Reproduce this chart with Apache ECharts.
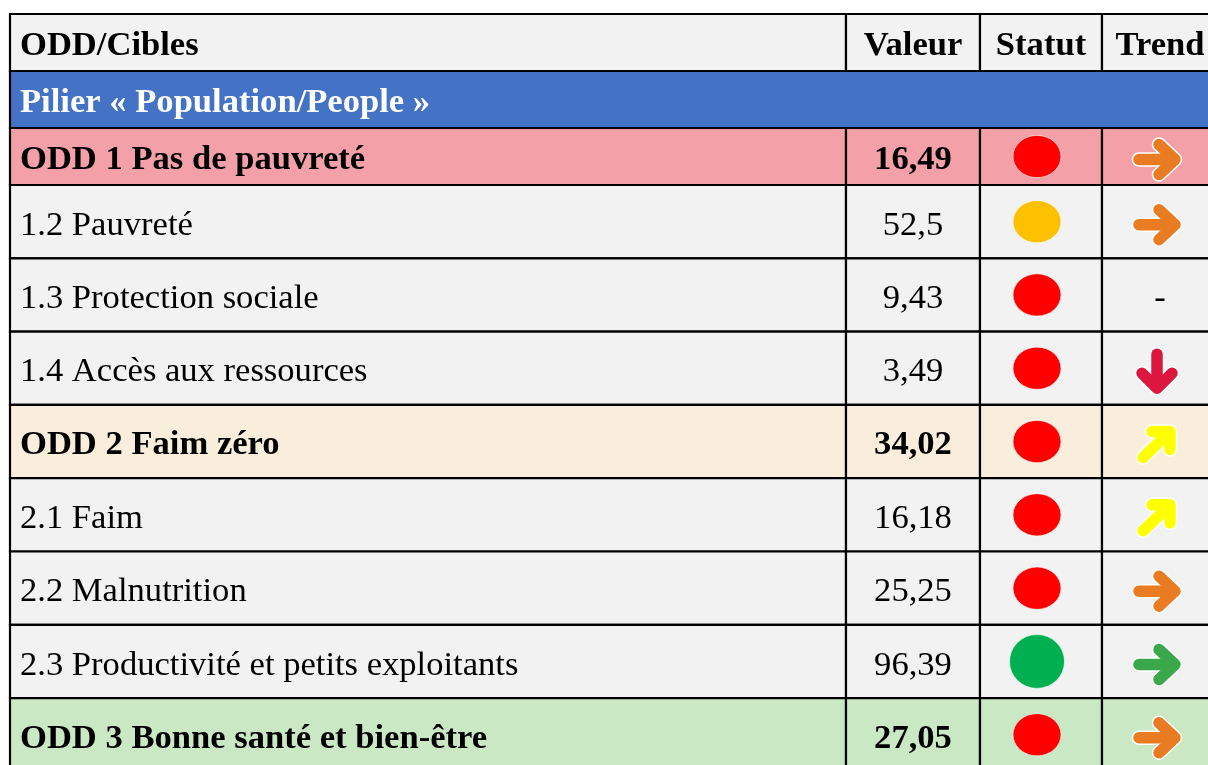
<!DOCTYPE html>
<html><head><meta charset="utf-8">
<script src="https://cdn.jsdelivr.net/npm/echarts@6/dist/echarts.min.js"></script>
<style>html,body{margin:0;padding:0;background:#fff;}#c{width:1208px;height:765px;}</style>
</head><body><div id="c"></div>
<script>
// ---------- data ----------
const columnHeaders = ['ODD/Cibles', 'Valeur', 'Statut', 'Trend'];
const rowLabels = [
  'Pilier « Population/People »',
  'ODD 1 Pas de pauvreté',
  '1.2 Pauvreté',
  '1.3 Protection sociale',
  '1.4 Accès aux ressources',
  'ODD 2 Faim zéro',
  '2.1 Faim',
  '2.2 Malnutrition',
  '2.3 Productivité et petits exploitants',
  'ODD 3 Bonne santé et bien-être'
];
const rowKinds = ['pillar', 'odd1', 'target', 'target', 'target', 'odd2', 'target', 'target', 'target', 'odd3'];
const values = [null, 16.49, 52.5, 9.43, 3.49, 34.02, 16.18, 25.25, 96.39, 27.05];
const statuses = [null, 'red', 'yellow', 'red', 'red', 'red', 'red', 'red', 'green', 'red'];
const trendDirections = [null, 'right', 'right', 'none', 'down', 'up-right', 'up-right', 'right', 'right', 'right'];
const trendTones = [null, 'orange', 'orange', null, 'crimson', 'yellow', 'yellow', 'orange', 'green', 'orange'];

// ---------- layout & style ----------
const W = 1208, H = 765;
const TABLE_LEFT = 10, TABLE_TOP = 14;
const COL_W = [836, 134, 122, 116];
const HEADER_H = 57;
const ROW_H = { pillar: 57, odd1: 57, target: 73.3, odd2: 73.3, odd3: 73.3 };
const FILL = { header: '#f2f2f2', pillar: '#4472c4', odd1: '#f4a0a8', odd2: '#f9eddc', odd3: '#cbe8c5', target: '#f2f2f2' };
const STATUS_COLOR = { red: '#ff0000', yellow: '#ffc000', green: '#00b050' };
const TONE_COLOR = { orange: '#e97c22', crimson: '#dc163d', yellow: '#ffff00', green: '#3aa84a' };
const FONT = '"Liberation Serif", "Times New Roman", serif';
const FS = 34.6;

const colX = [TABLE_LEFT];
COL_W.forEach(w => colX.push(colX[colX.length - 1] + w));
const rowTops = [];
let yy = TABLE_TOP + HEADER_H;
rowKinds.forEach(k => { rowTops.push(yy); yy += ROW_H[k]; });

const fmt = v => String(v).replace('.', ',');
const isBold = k => k !== 'target';

// build cells
const cells = [];
columnHeaders.forEach((h, c) => cells.push({
  x0: colX[c], y0: TABLE_TOP, x1: colX[c + 1], y1: TABLE_TOP + HEADER_H,
  fill: FILL.header, text: h, bold: true, color: '#000', align: c === 0 ? 'left' : 'center'
}));
rowLabels.forEach((lab, r) => {
  const k = rowKinds[r], y0 = rowTops[r], y1 = y0 + ROW_H[k];
  if (k === 'pillar') {
    cells.push({ x0: colX[0], y0, x1: colX[4], y1, fill: FILL.pillar, text: lab, bold: true, color: '#fff', align: 'left' });
    return;
  }
  cells.push({ x0: colX[0], y0, x1: colX[1], y1, fill: FILL[k], text: lab, bold: isBold(k), color: '#000', align: 'left' });
  cells.push({ x0: colX[1], y0, x1: colX[2], y1, fill: FILL[k], text: fmt(values[r]), bold: isBold(k), color: '#000', align: 'center' });
  cells.push({ x0: colX[2], y0, x1: colX[3], y1, fill: FILL[k], text: '', bold: false, color: '#000', align: 'center' });
  cells.push({ x0: colX[3], y0, x1: colX[4], y1, fill: FILL[k],
    text: trendDirections[r] === 'none' ? '-' : '', bold: false, color: '#000', align: 'center' });
});

const statusData = [];
const trendData = [];
rowLabels.forEach((lab, r) => {
  const k = rowKinds[r];
  const cy = rowTops[r] + ROW_H[k] / 2;
  if (statuses[r]) statusData.push({ value: [(colX[2] + colX[3]) / 2 - 4, cy], status: statuses[r] });
  if (trendDirections[r] && trendDirections[r] !== 'none')
    trendData.push({ value: [(colX[3] + colX[4]) / 2 - 3, cy + 3], dir: trendDirections[r], tone: trendTones[r] });
});

const ARROWS = {
  'right': [[[-18, 0], [17, 0]], [[2, -15], [18, 0], [2, 15]]],
  'down': [[[0, -17], [0, 16]], [[-15, 2], [0, 17], [15, 2]]],
  'up-right': [[[-14, 13], [12, -12]], [[-5, -13], [13, -13], [13, 5]]]
};

const chart = echarts.init(document.getElementById('c'), null, { renderer: 'canvas' });
chart.setOption({
  backgroundColor: '#ffffff',
  animation: false,
  grid: { left: 0, right: 0, top: 0, bottom: 0 },
  xAxis: { type: 'value', min: 0, max: W, show: false },
  yAxis: { type: 'value', min: 0, max: H, inverse: true, show: false },
  series: [
    {
      type: 'custom',
      data: cells.map(c => [c.x0, c.y0, c.x1, c.y1]),
      clip: false,
      renderItem: (params, api) => {
        const c = cells[params.dataIndex];
        const p0 = api.coord([api.value(0), api.value(1)]);
        const p1 = api.coord([api.value(2), api.value(3)]);
        const children = [{
          type: 'rect',
          shape: { x: p0[0], y: p0[1], width: p1[0] - p0[0], height: p1[1] - p0[1] },
          style: { fill: c.fill, stroke: '#000', lineWidth: 2.2 }
        }];
        if (c.text) {
          children.push({
            type: 'text', z2: 10,
            style: {
              text: c.text,
              x: c.align === 'left' ? p0[0] + 10 : (p0[0] + p1[0]) / 2,
              y: (p0[1] + p1[1]) / 2 + 4,
              fill: c.color,
              fontFamily: FONT, fontSize: FS, fontWeight: c.bold ? 'bold' : 'normal',
              align: c.align, verticalAlign: 'middle'
            }
          });
        }
        return { type: 'group', children };
      }
    },
    {
      type: 'custom',
      data: statusData,
      clip: false,
      z: 3,
      renderItem: (params, api) => {
        const d = statusData[params.dataIndex];
        const p = api.coord([api.value(0), api.value(1)]);
        const big = d.status === 'green';
        return {
          type: 'circle',
          x: p[0], y: p[1],
          scaleY: big ? 0.98 : 0.88,
          shape: { cx: 0, cy: 0, r: big ? 27.5 : 24 },
          style: { fill: STATUS_COLOR[d.status], stroke: 'rgba(255,255,255,0.6)', lineWidth: 1 }
        };
      }
    },
    {
      type: 'custom',
      data: trendData,
      clip: false,
      z: 3,
      renderItem: (params, api) => {
        const d = trendData[params.dataIndex];
        const p = api.coord([api.value(0), api.value(1)]);
        const parts = ARROWS[d.dir];
        const children = [];
        [['#ffffff', 14.5], [TONE_COLOR[d.tone], 11.5]].forEach(([col, lw]) => {
          parts.forEach(pts => children.push({
            type: 'polyline',
            shape: { points: pts.map(q => [p[0] + q[0], p[1] + q[1]]) },
            style: { stroke: col, lineWidth: lw, lineCap: 'round', lineJoin: 'round', fill: null }
          }));
        });
        return { type: 'group', children };
      }
    }
  ]
});
</script>
</body></html>
